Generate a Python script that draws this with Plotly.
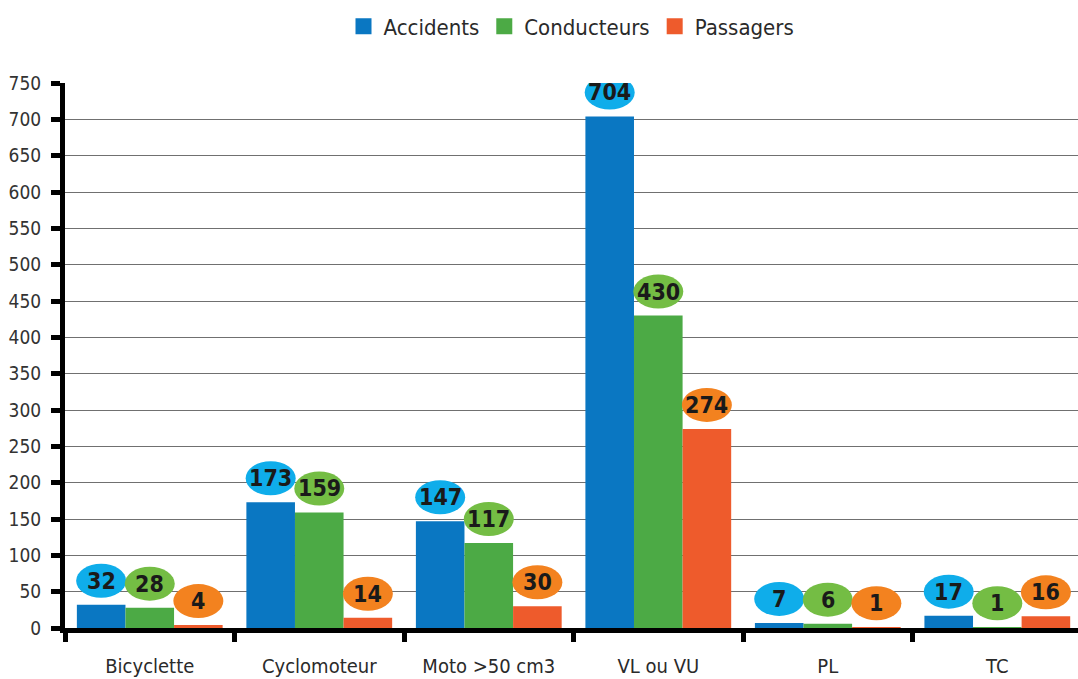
import plotly.graph_objects as go

categories = ["Bicyclette", "Cyclomoteur", "Moto >50 cm3", "VL ou VU", "PL", "TC"]
accidents = [32, 173, 147, 704, 7, 17]
conducteurs = [28, 159, 117, 430, 6, 1]
passagers = [4, 14, 30, 274, 1, 16]
series_names = ["Accidents", "Conducteurs", "Passagers"]
bar_colors = ["#0a77c2", "#4caa45", "#ee5b2c"]
bubble_colors = ["#0fadea", "#74bd44", "#f3821f"]
y_ticks = list(range(0, 751, 50))

FONT = "DejaVu Sans Condensed, Liberation Sans, sans-serif"
TEXT = "#2a2a2a"


def fnt(size, color=TEXT, weight=400):
    return dict(family=FONT, size=size, color=color, weight=weight)


series_values = [accidents, conducteurs, passagers]
x_pos = list(range(len(categories)))
bargap = 0.14
bar_w = (1 - bargap) / 3

fig = go.Figure()
for name, vals, col in zip(series_names, series_values, bar_colors):
    fig.add_trace(go.Bar(x=x_pos, y=vals, name=name, marker=dict(color=col, line_width=0),
                         showlegend=False, offsetgroup=name))
# legend entries with larger square swatches
for name, col in zip(series_names, bar_colors):
    fig.add_trace(go.Scatter(x=[None], y=[None], mode="markers", name=name,
                             marker=dict(symbol="square", size=17, color=col)))

shapes = []
annotations = []
for k, (vals, bcol) in enumerate(zip(series_values, bubble_colors)):
    for i, v in enumerate(vals):
        xc = i + (k - 1) * bar_w
        shapes.append(dict(type="circle", xref="x", yref="y", xsizemode="pixel", ysizemode="pixel",
                           xanchor=xc, yanchor=v, x0=-25, x1=25, y0=7, y1=41,
                           fillcolor=bcol, line_width=0, layer="above"))
        annotations.append(dict(x=xc, y=v, xref="x", yref="y", text=str(v), showarrow=False,
                                yshift=24, xanchor="center", yanchor="middle",
                                font=fnt(23, "#1a1a1a", 700)))

x_range = [-0.5, 5.476]
fig.update_layout(
    width=1078, height=679,
    margin=dict(l=65, r=0, t=83, b=51),
    paper_bgcolor="white", plot_bgcolor="white",
    barmode="group", bargap=bargap, bargroupgap=0,
    font=fnt(16),
    legend=dict(orientation="h", x=0.5, xanchor="center", y=0.992, yref="container", yanchor="top",
                font=fnt(22), itemsizing="trace", bgcolor="rgba(0,0,0,0)"),
    shapes=shapes, annotations=annotations,
    xaxis=dict(range=x_range, tickmode="array", tickvals=x_pos, ticktext=categories, ticks="",
               tickfont=fnt(20), ticklabelstandoff=16, automargin=False,
               minor=dict(tickmode="array", tickvals=[i - 0.5 for i in range(len(categories) + 1)],
                          ticks="outside", ticklen=9, tickwidth=5, tickcolor="black", showgrid=False),
               showline=True, linewidth=5, linecolor="black", showgrid=False, zeroline=False),
    yaxis=dict(range=[0, 750], tickmode="array", tickvals=y_ticks, ticks="outside", ticklen=9,
               tickwidth=5, tickcolor="black", showline=True, linewidth=5, linecolor="black",
               showgrid=True, gridcolor="#707070", gridwidth=1.2, zeroline=False, automargin=False,
               tickfont=fnt(19, "#333333"), ticklabelstandoff=6),
)

fig.write_html("out.html")
